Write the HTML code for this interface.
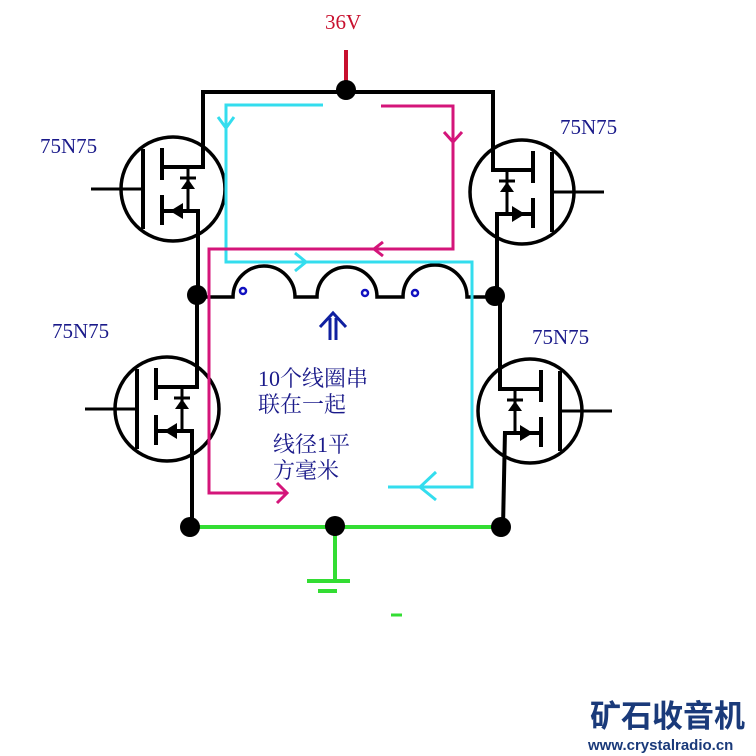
<!DOCTYPE html>
<html><head><meta charset="utf-8"><style>
html,body{margin:0;padding:0;background:#fff;}
svg{display:block;}
</style></head><body>
<svg width="756" height="756" viewBox="0 0 756 756" xmlns="http://www.w3.org/2000/svg" xmlns:xlink="http://www.w3.org/1999/xlink">
<defs>
<g id="fet" fill="none" stroke="#000" stroke-width="4">
  <circle cx="0" cy="0" r="52" stroke-width="3.5"/>
  <line x1="-82" y1="0" x2="-30" y2="0" stroke-width="3"/>
  <line x1="-30" y1="-40" x2="-30" y2="40"/>
  <line x1="-11" y1="-41" x2="-11" y2="-9"/>
  <line x1="-11" y1="6" x2="-11" y2="36"/>
  <polyline points="-11,-22 30,-22"/>
  <polyline points="-11,22 25,22"/>
  <line x1="15" y1="-22" x2="15" y2="22" stroke-width="3"/>
  <polygon points="15,-10 8,0 22,0" fill="#000" stroke="none"/>
  <line x1="7" y1="-11" x2="23" y2="-11" stroke-width="3"/>
  <polygon points="-3,22 10,14 10,30" fill="#000" stroke="none"/>
</g>
</defs>

<!-- MOSFETs -->
<use href="#fet" xlink:href="#fet" transform="translate(173,189)"/>
<use href="#fet" xlink:href="#fet" transform="translate(522,192) scale(-1,1)"/>
<use href="#fet" xlink:href="#fet" transform="translate(167,409)"/>
<use href="#fet" xlink:href="#fet" transform="translate(530,411) scale(-1,1)"/>

<!-- top rail -->
<polyline points="203,169 203,92 493,92 493,172" fill="none" stroke="#000" stroke-width="4"/>
<line x1="346" y1="88" x2="346" y2="50" stroke="#c8102e" stroke-width="4"/>
<circle cx="346" cy="90" r="10" fill="#000"/>
<text x="325" y="29" font-family="Liberation Serif, serif" font-size="21" fill="#c8102e">36V</text>

<!-- verticals -->
<g stroke="#000" stroke-width="4" fill="none">
<line x1="198" y1="209" x2="198" y2="295"/>
<line x1="497" y1="212" x2="497" y2="296"/>
<line x1="197" y1="295" x2="197" y2="389"/>
<line x1="192" y1="429" x2="192" y2="527"/>
<line x1="500" y1="296" x2="500" y2="391"/>
<line x1="505" y1="431" x2="503" y2="527"/>
</g>

<!-- coil -->
<path d="M197,297 H233 A31,31 0 0 1 295,297 H317 A30,30 0 0 1 377,297 H403 A32,32 0 0 1 467,297 H495" fill="none" stroke="#000" stroke-width="3.5"/>
<g fill="none" stroke="#1010c0" stroke-width="2.5">
<circle cx="243" cy="291" r="3"/><circle cx="365" cy="293" r="3"/><circle cx="415" cy="293" r="3"/>
</g>
<circle cx="197" cy="295" r="10" fill="#000"/>
<circle cx="495" cy="296" r="10" fill="#000"/>

<!-- cyan loop -->
<polyline points="323,105 226,105 226,262 472,262 472,487 388,487" fill="none" stroke="#33ddee" stroke-width="3"/>
<polyline points="218,117 226,128 234,117" fill="none" stroke="#33ddee" stroke-width="3"/>
<polyline points="295,253 306,262 295,271" fill="none" stroke="#33ddee" stroke-width="3"/>
<polyline points="436,472 420,487 436,500" fill="none" stroke="#33ddee" stroke-width="3"/>

<!-- magenta loop -->
<polyline points="381,106 453,106 453,249 209,249 209,493 287,493" fill="none" stroke="#d4157a" stroke-width="3"/>
<polyline points="444,132 453,142 462,132" fill="none" stroke="#d4157a" stroke-width="3"/>
<polyline points="383,242 374,249 383,256" fill="none" stroke="#d4157a" stroke-width="3"/>
<polyline points="277,483 287,493 277,503" fill="none" stroke="#d4157a" stroke-width="3"/>

<!-- ground rail -->
<line x1="190" y1="527" x2="501" y2="527" stroke="#33dd33" stroke-width="4"/>
<line x1="335" y1="527" x2="335" y2="580" stroke="#33dd33" stroke-width="4"/>
<line x1="307" y1="581" x2="350" y2="581" stroke="#33dd33" stroke-width="4"/>
<line x1="318" y1="591" x2="337" y2="591" stroke="#33dd33" stroke-width="4"/>
<line x1="391" y1="615" x2="402" y2="615" stroke="#33dd33" stroke-width="3"/>
<circle cx="190" cy="527" r="10" fill="#000"/>
<circle cx="335" cy="526" r="10" fill="#000"/>
<circle cx="501" cy="527" r="10" fill="#000"/>

<!-- up arrow -->
<g stroke="#1020a0" stroke-width="3" fill="none">
<line x1="330" y1="340" x2="330" y2="318"/><line x1="336" y1="340" x2="336" y2="318"/>
<polyline points="320,327 333,313 346,327"/>
</g>

<g font-family="Liberation Serif, serif" font-size="21" fill="#1a1a8a">
<text x="40" y="153">75N75</text>
<text x="560" y="134">75N75</text>
<text x="52" y="338">75N75</text>
<text x="532" y="344">75N75</text>
</g>
<g font-family="Liberation Serif, 'Noto Serif CJK SC', serif" font-size="22" fill="#1a1a8a">
<text x="258" y="386">10个线圈串</text>
<text x="258" y="412">联在一起</text>
<text x="273" y="452">线径1平</text>
<text x="273" y="478">方毫米</text>
</g>

<text x="590" y="727" font-family="'Noto Sans CJK SC', sans-serif" font-weight="bold" font-size="31" fill="#1a3a7a">矿石收音机</text>
<text x="588" y="750" font-family="Liberation Sans, sans-serif" font-weight="bold" font-size="15" fill="#1a3a7a">www.crystalradio.cn</text>
</svg>
</body></html>
